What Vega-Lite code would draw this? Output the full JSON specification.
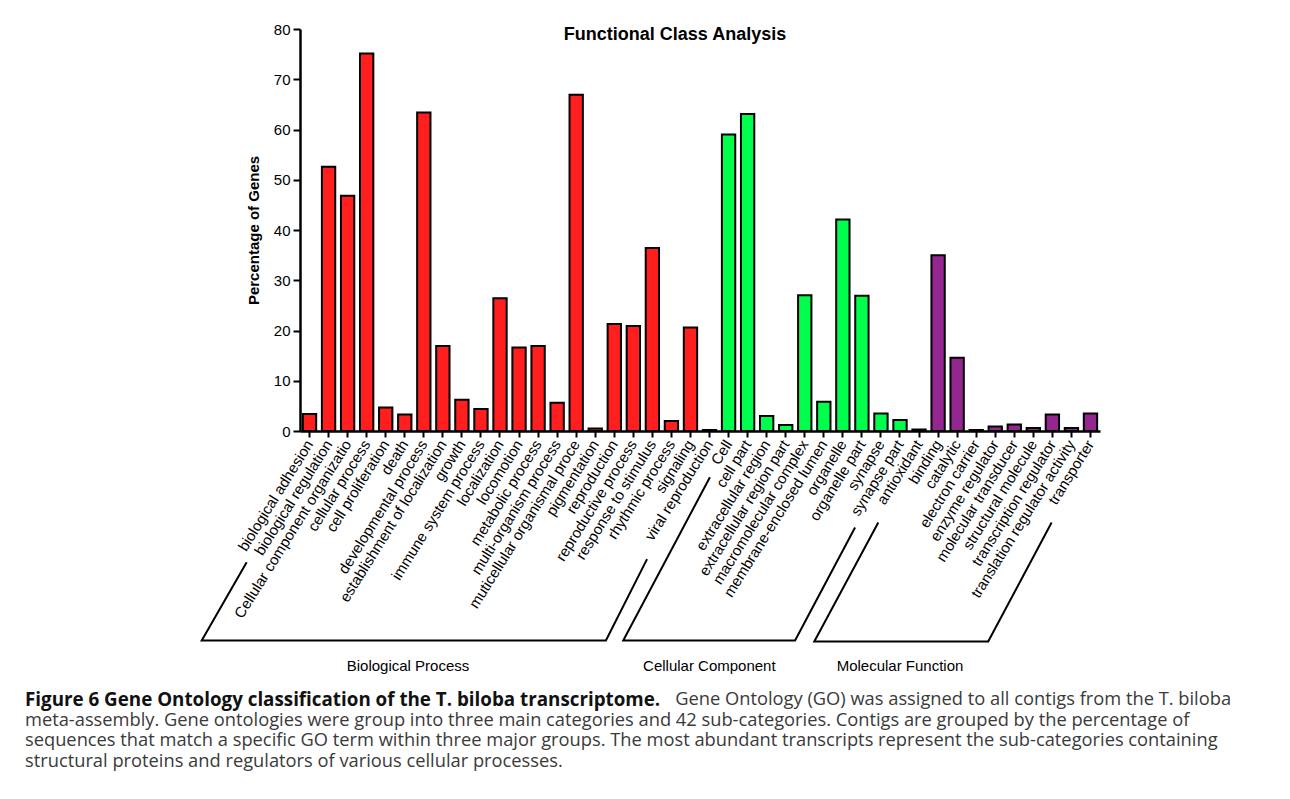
{
  "$schema": "https://vega.github.io/schema/vega-lite/v6.json",
  "background": "white",
  "padding": {"left": 25, "top": 22, "right": 5, "bottom": 5},
  "title": {
    "text": "Figure 6 Gene Ontology classification of the T. biloba transcriptome.",
    "subtitle": [
      "\u200b\u00a0\u00a0\u00a0\u00a0\u00a0\u00a0\u00a0\u00a0\u00a0\u00a0\u00a0\u00a0\u00a0\u00a0\u00a0\u00a0\u00a0\u00a0\u00a0\u00a0\u00a0\u00a0\u00a0\u00a0\u00a0\u00a0\u00a0\u00a0\u00a0\u00a0\u00a0\u00a0\u00a0\u00a0\u00a0\u00a0\u00a0\u00a0\u00a0\u00a0\u00a0\u00a0\u00a0\u00a0\u00a0\u00a0\u00a0\u00a0\u00a0\u00a0\u00a0\u00a0\u00a0\u00a0\u00a0\u00a0\u00a0\u00a0\u00a0\u00a0\u00a0\u00a0\u00a0\u00a0\u00a0\u00a0\u00a0\u00a0\u00a0\u00a0\u00a0\u00a0\u00a0\u00a0\u00a0\u00a0\u00a0\u00a0\u00a0\u00a0\u00a0\u00a0\u00a0\u00a0\u00a0\u00a0\u00a0\u00a0\u00a0\u00a0\u00a0\u00a0\u00a0\u00a0\u00a0\u00a0\u00a0\u00a0\u00a0\u00a0\u00a0\u00a0\u00a0\u00a0\u00a0\u00a0\u00a0\u00a0\u00a0\u00a0\u00a0\u00a0\u00a0\u00a0\u00a0\u00a0\u00a0\u00a0\u00a0\u00a0\u00a0\u00a0\u00a0\u00a0\u00a0\u00a0\u00a0\u00a0\u00a0\u00a0\u00a0\u00a0\u00a0\u00a0\u00a0\u2002Gene Ontology (GO) was assigned to all contigs from the T. biloba",
      "meta-assembly. Gene ontologies were group into three main categories and 42 sub-categories. Contigs are grouped by the percentage of",
      "sequences that match a specific GO term within three major groups. The most abundant transcripts represent the sub-categories containing",
      "structural proteins and regulators of various cellular processes."
    ],
    "orient": "bottom",
    "anchor": "start",
    "frame": "group",
    "dx": -275,
    "offset": 17,
    "font": "Open Sans",
    "fontSize": 18.8,
    "fontWeight": "bold",
    "color": "#111111",
    "subtitleFont": "Open Sans",
    "subtitleFontSize": 18.3,
    "subtitleFontWeight": "normal",
    "subtitleColor": "#3a3a3a",
    "subtitleLineHeight": 20.5,
    "subtitlePadding": -18.8
  },
  "datasets": {
    "terms": [
      {"term": "biological adhesion", "group": "Biological Process", "pct": 3.4},
      {"term": "biological regulation", "group": "Biological Process", "pct": 52.6},
      {"term": "Cellular component organizatio", "group": "Biological Process", "pct": 46.8},
      {"term": "cellular process", "group": "Biological Process", "pct": 75.1},
      {"term": "cell proliferation", "group": "Biological Process", "pct": 4.7},
      {"term": "death", "group": "Biological Process", "pct": 3.3},
      {"term": "developmental process", "group": "Biological Process", "pct": 63.4},
      {"term": "establishment of localization", "group": "Biological Process", "pct": 16.9},
      {"term": "growth", "group": "Biological Process", "pct": 6.2},
      {"term": "immune system process", "group": "Biological Process", "pct": 4.4},
      {"term": "localization", "group": "Biological Process", "pct": 26.4},
      {"term": "locomotion", "group": "Biological Process", "pct": 16.6},
      {"term": "metabolic process", "group": "Biological Process", "pct": 16.9},
      {"term": "multi-organism process", "group": "Biological Process", "pct": 5.6},
      {"term": "muticellular organismal proce", "group": "Biological Process", "pct": 66.9},
      {"term": "pigmentation", "group": "Biological Process", "pct": 0.5},
      {"term": "reproduction", "group": "Biological Process", "pct": 21.3},
      {"term": "reproductive process", "group": "Biological Process", "pct": 20.9},
      {"term": "response to stimulus", "group": "Biological Process", "pct": 36.4},
      {"term": "rhythmic process", "group": "Biological Process", "pct": 2.0},
      {"term": "signaling", "group": "Biological Process", "pct": 20.6},
      {"term": "viral reproduction", "group": "Biological Process", "pct": 0.2},
      {"term": "Cell", "group": "Cellular Component", "pct": 59.0},
      {"term": "cell part", "group": "Cellular Component", "pct": 63.1},
      {"term": "extracellular region", "group": "Cellular Component", "pct": 3.0},
      {"term": "extracellular region part", "group": "Cellular Component", "pct": 1.2},
      {"term": "macromolecular complex", "group": "Cellular Component", "pct": 27.0},
      {"term": "membrane-enclosed lumen", "group": "Cellular Component", "pct": 5.8},
      {"term": "organelle", "group": "Cellular Component", "pct": 42.1},
      {"term": "organelle part", "group": "Cellular Component", "pct": 26.9},
      {"term": "synapse", "group": "Cellular Component", "pct": 3.5},
      {"term": "synapse part", "group": "Cellular Component", "pct": 2.2},
      {"term": "antioxidant", "group": "Molecular Function", "pct": 0.3},
      {"term": "binding", "group": "Molecular Function", "pct": 35.0},
      {"term": "catalytic", "group": "Molecular Function", "pct": 14.6},
      {"term": "electron carrier", "group": "Molecular Function", "pct": 0.2},
      {"term": "enzyme regulator", "group": "Molecular Function", "pct": 0.9},
      {"term": "molecular transducer", "group": "Molecular Function", "pct": 1.3},
      {"term": "structural molecule", "group": "Molecular Function", "pct": 0.6},
      {"term": "transcription regulator", "group": "Molecular Function", "pct": 3.3},
      {"term": "translation regulator activity", "group": "Molecular Function", "pct": 0.6},
      {"term": "transporter", "group": "Molecular Function", "pct": 3.5}
    ],
    "brackets": [
      {"group": "Biological Process", "pt": 1, "bx": -2.8, "by": -26.1},
      {"group": "Biological Process", "pt": 2, "bx": -5.16, "by": -41.7},
      {"group": "Biological Process", "pt": 3, "bx": 16.06, "by": -41.7},
      {"group": "Biological Process", "pt": 4, "bx": 18.22, "by": -25.5},
      {"group": "Cellular Component", "pt": 1, "bx": 21.52, "by": -9.2},
      {"group": "Cellular Component", "pt": 2, "bx": 16.97, "by": -41.7},
      {"group": "Cellular Component", "pt": 3, "bx": 25.99, "by": -41.7},
      {"group": "Cellular Component", "pt": 4, "bx": 29.14, "by": -19.2},
      {"group": "Molecular Function", "pt": 1, "bx": 30.36, "by": -18.2},
      {"group": "Molecular Function", "pt": 2, "bx": 27.0, "by": -41.9},
      {"group": "Molecular Function", "pt": 3, "bx": 36.13, "by": -41.9},
      {"group": "Molecular Function", "pt": 4, "bx": 39.46, "by": -18.2}
    ],
    "groupLabels": [
      {"group": "Biological Process", "lx": 5.67, "ly": -46.8},
      {"group": "Cellular Component", "lx": 21.49, "ly": -46.8},
      {"group": "Molecular Function", "lx": 31.5, "ly": -46.8}
    ]
  },
  "vconcat": [
    {
      "width": 800,
      "height": 402,
      "title": {
        "text": "Functional Class Analysis",
        "font": "Liberation Sans",
        "fontSize": 18,
        "fontWeight": "bold",
        "color": "black",
        "anchor": "middle",
        "frame": "group",
        "dx": -25,
        "offset": -22
      },
      "layer": [
        {
          "data": {"name": "terms"},
          "mark": {"type": "bar", "stroke": "black", "strokeWidth": 2},
          "encoding": {
            "x": {
              "field": "term",
              "type": "nominal",
              "sort": null,
              "scale": {"paddingInner": 0.3, "paddingOuter": 0.15},
              "axis": {
                "title": null,
                "labelAngle": -58,
                "labelFontSize": 15,
                "labelPadding": 4,
                "labelLimit": 400,
                "tickSize": 6,
                "tickWidth": 2,
                "domainWidth": 2.5
              }
            },
            "y": {
              "field": "pct",
              "type": "quantitative",
              "scale": {"domain": [0, 80], "nice": false},
              "axis": {
                "title": "Percentage of Genes",
                "values": [0, 10, 20, 30, 40, 50, 60, 70, 80],
                "labelFontSize": 15,
                "labelPadding": 3,
                "tickSize": 7,
                "tickWidth": 2,
                "domainWidth": 2.5,
                "titleFontSize": 15,
                "titleFontWeight": "bold",
                "titlePadding": 12
              }
            },
            "color": {
              "field": "group",
              "type": "nominal",
              "scale": {
                "domain": ["Biological Process", "Cellular Component", "Molecular Function"],
                "range": ["#ff1f1f", "#00ff4c", "#93278f"]
              },
              "legend": null
            }
          }
        },
        {
          "data": {"name": "brackets"},
          "mark": {"type": "line", "color": "black", "strokeWidth": 2, "clip": false},
          "encoding": {
            "x": {"field": "bx", "type": "quantitative", "scale": {"domain": [0, 42], "nice": false, "zero": false}, "axis": null},
            "y": {"field": "by", "type": "quantitative", "scale": {"domain": [0, 80], "nice": false}, "axis": null},
            "detail": {"field": "group"},
            "order": {"field": "pt"}
          }
        },
        {
          "data": {"name": "groupLabels"},
          "mark": {"type": "text", "font": "Liberation Sans", "fontSize": 15, "color": "black", "baseline": "middle", "align": "center", "clip": false},
          "encoding": {
            "x": {"field": "lx", "type": "quantitative", "scale": {"domain": [0, 42], "nice": false, "zero": false}, "axis": null},
            "y": {"field": "ly", "type": "quantitative", "scale": {"domain": [0, 80], "nice": false}, "axis": null},
            "text": {"field": "group"}
          }
        }
      ],
      "resolve": {"scale": {"x": "independent", "y": "independent"}}
    }
  ],
  "config": {
    "view": {"stroke": null},
    "axis": {
      "labelFont": "Liberation Sans",
      "titleFont": "Liberation Sans",
      "labelColor": "black",
      "titleColor": "black",
      "domainColor": "black",
      "tickColor": "black",
      "grid": false
    }
  }
}
